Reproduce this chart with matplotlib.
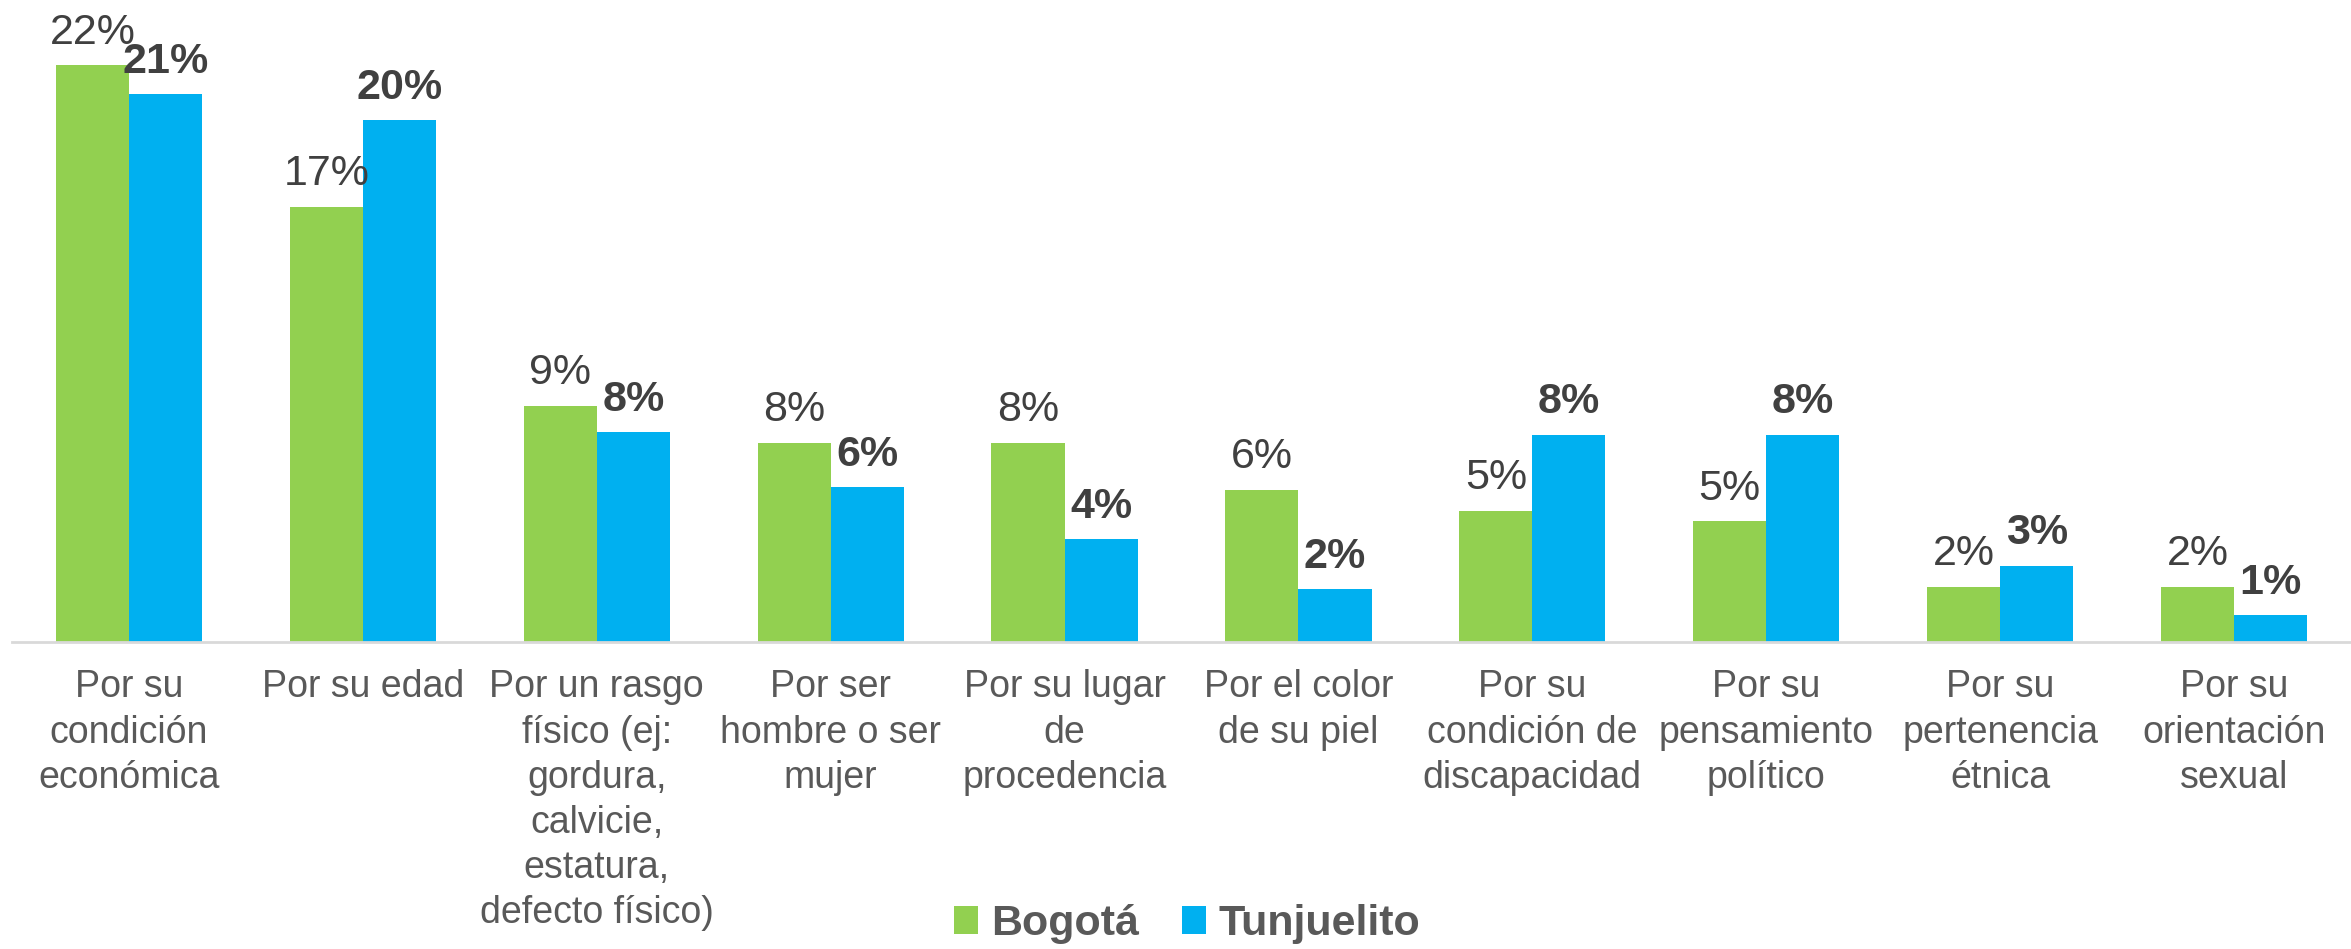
import matplotlib.pyplot as plt
import numpy as np

plt.rcParams['font.family'] = ['Liberation Sans', 'DejaVu Sans']

categorias = ["Por su\ncondición\neconómica", "Por su edad",
              "Por un rasgo\nfísico (ej:\ngordura,\ncalvicie,\nestatura,\ndefecto físico)",
              "Por ser\nhombre o ser\nmujer", "Por su lugar\nde\nprocedencia",
              "Por el color\nde su piel", "Por su\ncondición de\ndiscapacidad",
              "Por su\npensamiento\npolítico", "Por su\npertenencia\nétnica",
              "Por su\norientación\nsexual"]
bogota = [22.0, 16.6, 9.0, 7.6, 7.6, 5.8, 5.0, 4.6, 2.1, 2.1]
tunjuelito = [20.9, 19.9, 8.0, 5.9, 3.9, 2.0, 7.9, 7.9, 2.9, 1.0]

verde = "#92D050"
azul = "#00B0F0"
gris = "#595959"

fig = plt.figure(figsize=(23.51, 9.49), dpi=100)
ax = fig.add_axes([12 / 2351, 1 - 641.5 / 949, 1 - 12 / 2351, 641.5 / 949])

x = np.arange(len(categorias))
w = 0.3125
b1 = ax.bar(x - w / 2, bogota, w, color=verde, label="Bogotá")
b2 = ax.bar(x + w / 2, tunjuelito, w, color=azul, label="Tunjuelito")

for rect, v in zip(b1, bogota):
    ax.annotate(f"{v:.0f}%", (rect.get_x() + rect.get_width() / 2, rect.get_height()),
                xytext=(0, 9), textcoords="offset points", ha="center", va="bottom",
                fontsize=31, color="#404040")
for rect, v in zip(b2, tunjuelito):
    ax.annotate(f"{v:.0f}%", (rect.get_x() + rect.get_width() / 2, rect.get_height()),
                xytext=(0, 9), textcoords="offset points", ha="center", va="bottom",
                fontsize=31, color="#404040", fontweight="bold")

ax.set_xlim(-0.5, 9.5)
ax.set_ylim(0, 24.5)
ax.set_xticks(x)
ax.set_xticklabels(categorias, fontsize=27, color=gris, linespacing=1.33)
ax.tick_params(axis="x", length=0, pad=20)
ax.set_yticks([])
for s in ["top", "right", "left"]:
    ax.spines[s].set_visible(False)
ax.spines["bottom"].set_color("#D9D9D9")
ax.spines["bottom"].set_linewidth(2)

fig.legend(loc="center", bbox_to_anchor=(0.505, 0.026), ncol=2, frameon=False,
           prop={"size": 31, "weight": "bold"}, labelcolor=gris,
           handlelength=0.55, handleheight=0.6, handletextpad=0.3, columnspacing=1.0)

fig.savefig("out.png", dpi=100)
